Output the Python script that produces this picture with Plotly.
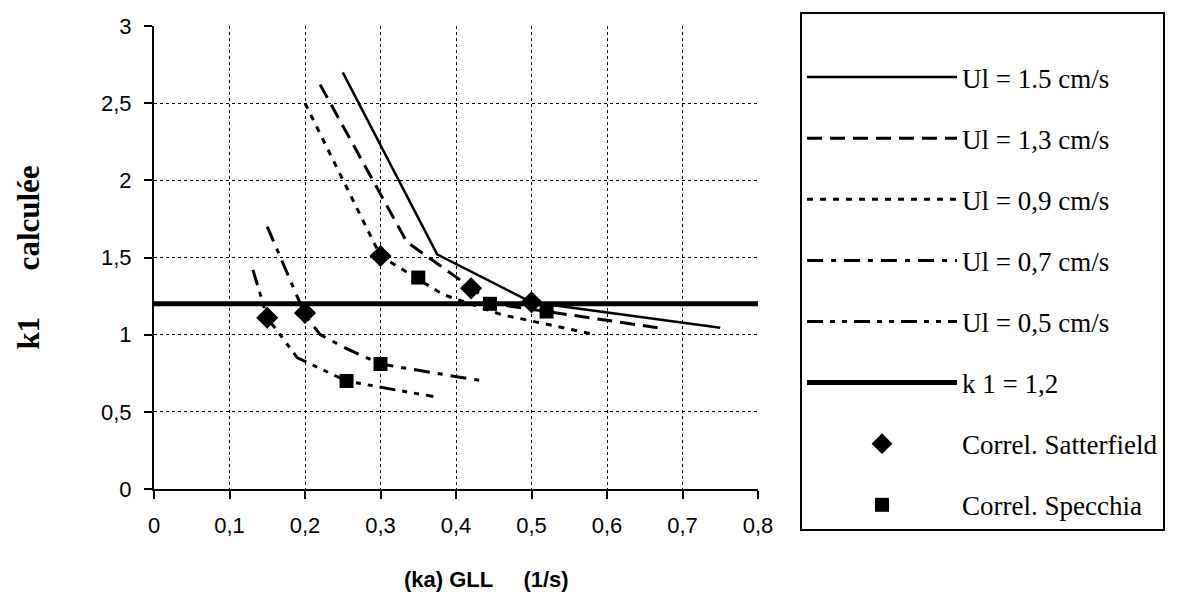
import plotly.graph_objects as go

# ---- data ----
ul15_x = [0.25, 0.375, 0.5, 0.75]
ul15_y = [2.70, 1.52, 1.21, 1.045]

ul13_x = [0.22, 0.335, 0.45, 0.667]
ul13_y = [2.62, 1.60, 1.20, 1.045]

ul09_x = [0.20, 0.30, 0.383, 0.46, 0.585]
ul09_y = [2.50, 1.51, 1.26, 1.13, 1.00]

ul07_x = [0.15, 0.20, 0.22, 0.255, 0.30, 0.335, 0.392, 0.436]
ul07_y = [1.70, 1.13, 1.00, 0.91, 0.81, 0.78, 0.735, 0.70]

ul05_x = [0.131, 0.15, 0.19, 0.255, 0.322, 0.37]
ul05_y = [1.42, 1.11, 0.85, 0.70, 0.64, 0.60]

k1_x = [0.0, 0.8]
k1_y = [1.2, 1.2]

satt_x = [0.15, 0.20, 0.30, 0.42, 0.50]
satt_y = [1.11, 1.14, 1.51, 1.30, 1.21]

spec_x = [0.255, 0.30, 0.35, 0.445, 0.52]
spec_y = [0.70, 0.81, 1.37, 1.20, 1.15]

x_ticks = [0, 0.1, 0.2, 0.3, 0.4, 0.5, 0.6, 0.7, 0.8]
x_ticklabels = ["0", "0,1", "0,2", "0,3", "0,4", "0,5", "0,6", "0,7", "0,8"]
y_ticks = [0, 0.5, 1, 1.5, 2, 2.5, 3]
y_ticklabels = ["0", "0,5", "1", "1,5", "2", "2,5", "3"]

names = ["Ul = 1.5 cm/s", "Ul = 1,3 cm/s", "Ul = 0,9 cm/s", "Ul = 0,7 cm/s",
         "Ul = 0,5 cm/s", "k 1 = 1,2", "Correl. Satterfield", "Correl. Specchia"]

x_title = "<b>(ka) GLL     (1/s)</b>"
y_title = "<b>k1      calculée</b>"

fig = go.Figure()

line_series = [
    (ul15_x, ul15_y, names[0], dict(color="black", width=2.5, dash="solid")),
    (ul13_x, ul13_y, names[1], dict(color="black", width=3, dash="15px,8px")),
    (ul09_x, ul09_y, names[2], dict(color="black", width=3, dash="6px,7px")),
    (ul07_x, ul07_y, names[3], dict(color="black", width=3, dash="16px,8px,5px,8px")),
    (ul05_x, ul05_y, names[4], dict(color="black", width=3, dash="16px,7px,5px,7px,5px,7px")),
    (k1_x, k1_y, names[5], dict(color="black", width=5, dash="solid")),
]
for i, (xs, ys, nm, ln) in enumerate(line_series):
    fig.add_trace(go.Scatter(x=xs, y=ys, mode="lines", name=nm, line=ln,
                             legendgroup=f"g{i}"))

fig.add_trace(go.Scatter(x=satt_x, y=satt_y, mode="markers", name=names[6],
                         marker=dict(symbol="diamond", size=17, color="black"),
                         legendgroup="g6"))
fig.add_trace(go.Scatter(x=spec_x, y=spec_y, mode="markers", name=names[7],
                         marker=dict(symbol="square", size=14, color="black"),
                         legendgroup="g7"))

tick_font = dict(family="Liberation Sans Narrow, Liberation Sans, Arial", size=22, color="black")

axis_common = dict(
    showgrid=True, gridcolor="#000000", gridwidth=1.4, griddash="dot",
    showline=True, linecolor="black", linewidth=2,
    ticks="outside", ticklen=8, tickwidth=2, tickcolor="black",
    zeroline=False, ticklabelstandoff=8,
    tickfont=tick_font,
)

fig.update_xaxes(range=[0, 0.8], tickvals=x_ticks, ticktext=x_ticklabels, **axis_common)
fig.update_yaxes(range=[0, 3], tickvals=y_ticks, ticktext=y_ticklabels,
                 title=dict(text=y_title, standoff=52,
                            font=dict(family="Liberation Serif, Times New Roman", size=31, color="black")),
                 **axis_common)

fig.add_annotation(text=x_title, xref="paper", yref="paper",
                   x=(486 - 154) / 604, y=(489 - 580) / 465,
                   xanchor="center", yanchor="middle", showarrow=False,
                   font=dict(family="Liberation Sans, Arial", size=22, color="black"))

fig.update_layout(
    width=1182, height=605,
    margin=dict(l=154, r=424, t=24, b=116),
    paper_bgcolor="white", plot_bgcolor="white",
    showlegend=True,
    legend=dict(
        x=(800 - 154) / 604, y=(489 - 10) / 465, xanchor="left", yanchor="top",
        bordercolor="black", borderwidth=2, bgcolor="white",
        font=dict(family="Liberation Serif, Times New Roman", size=27, color="black"),
        itemwidth=150, traceorder="grouped", tracegroupgap=23,
        maxheight=530,
        title=dict(text=" ", font=dict(size=30)),
    ),
)

post_js = (
    "document.body.style.margin='0';"
    "var s=document.createElement('style');"
    "s.textContent='.legend .scrollbar{display:none !important;}';"
    "document.head.appendChild(s);"
)

fig.write_html("out.html", post_script=post_js, config={"displayModeBar": False})
